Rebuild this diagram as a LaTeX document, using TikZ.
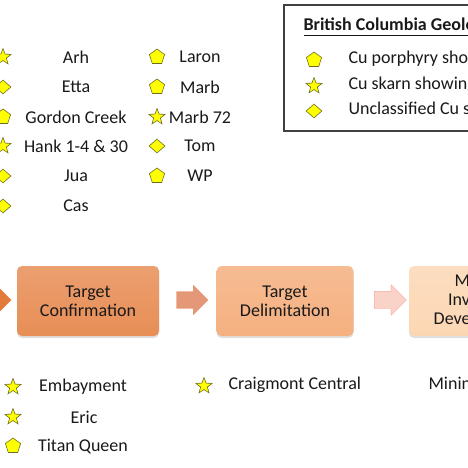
\documentclass[tikz,border=0pt]{standalone}
\usepackage{fontspec}
\setmainfont{Carlito}
\usetikzlibrary{shapes.geometric,shapes.arrows,shadows}
\definecolor{symfill}{RGB}{255,255,0}
\definecolor{symline}{RGB}{110,110,30}
\definecolor{txtdark}{RGB}{25,25,25}
\definecolor{stageone}{RGB}{232,142,86}
\definecolor{stagetwo}{RGB}{245,176,128}
\definecolor{stagefour}{RGB}{252,215,180}
\definecolor{arrowzero}{RGB}{226,124,58}
\definecolor{arrowone}{RGB}{229,152,120}
\definecolor{arrowtwo}{RGB}{249,210,200}
\begin{document}
\begin{tikzpicture}[x=1pt,y=1pt,
  font=\fontsize{18}{19}\selectfont,
  pent/.style={regular polygon,regular polygon sides=5,draw=symline,fill=symfill,minimum size=16pt,inner sep=0pt,line width=0.6pt},
  skarn/.style={star,star points=5,star point ratio=2.4,draw=symline,fill=symfill,minimum size=17pt,inner sep=0pt,line width=0.6pt},
  uncl/.style={diamond,draw=symline,fill=symfill,minimum width=16pt,minimum height=14pt,inner sep=0pt,line width=0.6pt},
  stage/.style={rectangle,rounded corners=5pt,minimum height=70pt,align=center,text=txtdark,
    drop shadow={shadow xshift=0pt,shadow yshift=-2pt,opacity=0.25}},
  flow/.style={single arrow,inner xsep=0pt,inner ysep=8.5pt,single arrow head extend=6.5pt,minimum height=32pt}]
\useasboundingbox (0,0) rectangle (468,-468);
\clip (0,0) rectangle (468,-468);
\tikzstyle{every node}+=[text=txtdark]
\node [skarn] (s-arh) at (3,-57) {};
\node (arh) at (76,-57) {Arh};
\node [uncl] (s-etta) at (3,-87) {};
\node (etta) at (76,-87) {Etta};
\node [pent] (s-gordon) at (3,-117) {};
\node (gordon) at (76,-117) {Gordon Creek};
\node [skarn] (s-hank) at (3,-146) {};
\node (hank) at (76,-146) {Hank 1-4 \& 30};
\node [uncl] (s-jua) at (3,-176) {};
\node (jua) at (76,-176) {Jua};
\node [uncl] (s-cas) at (3,-206) {};
\node (cas) at (76,-206) {Cas};
\node [pent] (s-laron) at (157,-57) {};
\node (laron) at (200,-57) {Laron};
\node [pent] (s-marb) at (157,-87) {};
\node (marb) at (200,-87) {Marb};
\node [skarn] (s-marb72) at (157,-117) {};
\node (marb72) at (200,-117) {Marb 72};
\node [uncl] (s-tom) at (157,-146) {};
\node (tom) at (200,-146) {Tom};
\node [pent] (s-wp) at (157,-176) {};
\node (wp) at (200,-176) {WP};
\draw [black!75,line width=1.2pt] (284,-5) rectangle (490,-131);
\node [anchor=west,font=\fontsize{18}{19}\selectfont\bfseries] (legtitle) at (300,-27) {\underline{British Columbia Geological Survey}};
\node [pent] (l-por) at (314,-60) {};
\node [anchor=west] (t-por) at (345,-59) {Cu porphyry showing};
\node [skarn] (l-skarn) at (314,-86) {};
\node [anchor=west] (t-skarn) at (345,-85) {Cu skarn showing};
\node [uncl] (l-uncl) at (314,-111) {};
\node [anchor=west] (t-uncl) at (345,-110) {Unclassified Cu showing};
\node [flow,fill=arrowzero] (a0) at (-9,-300) {};
\node [stage,minimum width=142pt,top color=stageone!85!white,bottom color=stageone] (confirm) at (88,-301) {Target\\Confirmation};
\node [flow,fill=arrowone] (a1) at (188,-300) {};
\node [stage,minimum width=137pt,top color=stagetwo!85!white,bottom color=stagetwo] (delimit) at (285,-301) {Target\\Delimitation};
\node [flow,fill=arrowtwo,draw=arrowtwo!80!red,line width=0.4pt] (a2) at (386,-300) {};
\node [stage,minimum width=148pt,top color=stagefour!85!white,bottom color=stagefour] (inventory) at (483,-301) {Mineral\\Inventory\\Development};
\node [skarn] (s-emb) at (13,-387) {};
\node (emb) at (83,-387) {Embayment};
\node [skarn] (s-eric) at (13,-417) {};
\node (eric) at (84,-417) {Eric};
\node [pent] (s-titan) at (13,-446) {};
\node (titan) at (83,-446) {Titan Queen};
\node [skarn] (s-craig) at (204,-386) {};
\node [anchor=west] (craig) at (225,-385) {Craigmont Central};
\node [anchor=west] (mining) at (425,-385) {Mining};
\end{tikzpicture}
\end{document}
